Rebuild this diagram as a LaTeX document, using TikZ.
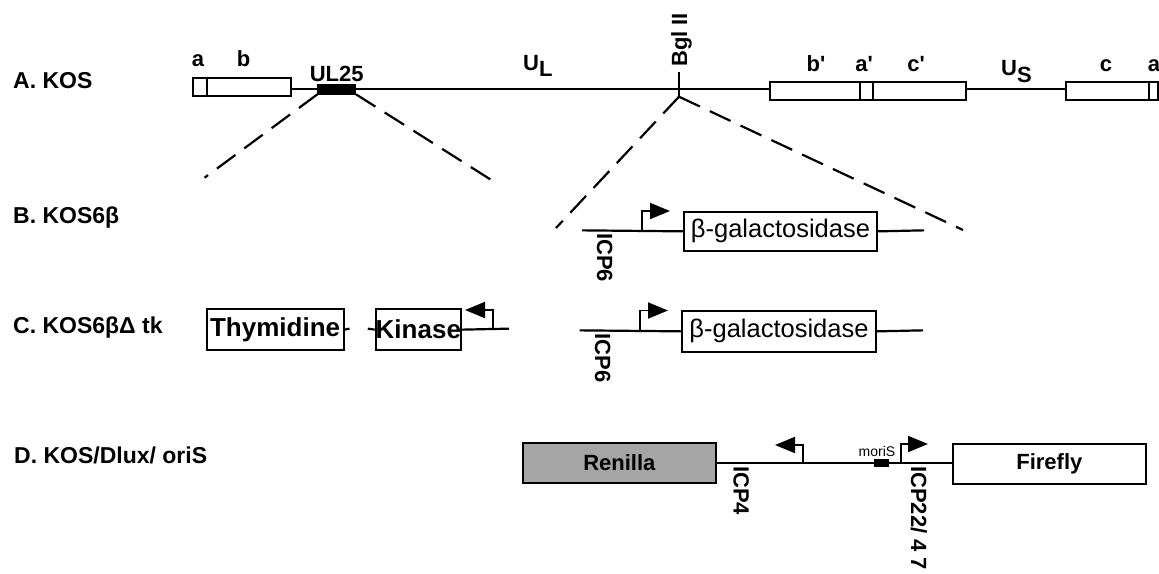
\documentclass[tikz,border=0pt]{standalone}
\usepackage{fontspec}
\setmainfont{Liberation Sans}
\usetikzlibrary{arrows.meta}
\begin{document}
\begin{tikzpicture}[x=1pt,y=-1pt,
  rowlab/.style={font=\fontsize{23}{26}\selectfont\bfseries, inner sep=0pt, anchor=base west},
  seglab/.style={font=\fontsize{22}{24}\selectfont\bfseries, inner sep=0pt, anchor=base},
  icp/.style={font=\fontsize{22}{24}\selectfont\bfseries, inner sep=0pt, anchor=base west, rotate=-90},
  box/.style={draw, line width=2pt, inner sep=0pt, anchor=north west},
  gene/.style={box, font=\fontsize{26}{28}\selectfont\bfseries},
  betagal/.style={box, font=\fontsize{25.5}{28}\selectfont},
  dna/.style={line width=2.2pt},
  thin/.style={line width=1.8pt},
  zoomline/.style={line width=2.2pt, dash pattern=on 23pt off 11pt},
  prom/.style={line width=1.9pt, -{Triangle[length=20pt,width=16pt]}}]
\useasboundingbox (0,0) rectangle (1159,573);

% ---------- Row A ----------
\node[rowlab] (labA) at (13,88.5) {A. KOS};
\node[box, minimum width=98.3pt, minimum height=18pt] (ab) at (192,76.5) {};
\draw[thin] (207,76.5) -- (207,94.5);
\node[seglab] (la) at (198,66.7) {a};
\node[seglab] (lb) at (243.5,66.7) {b};
\node[draw, fill=black, line width=0.5pt, inner sep=0pt, minimum width=38pt, minimum height=9.5pt] (ul) at (336.7,89.3) {};
\node[seglab] (ul25) at (336.7,81.7) {UL25};
\node[seglab, anchor=base west] (UL) at (523,70) {U\raisebox{-6pt}{L}};
\coordinate (bg) at (679,89.3);
\coordinate (bgtop) at (679,71.7);
\coordinate (bgbot) at (679,96.7);
\node[font=\fontsize{22}{24}\selectfont\bfseries, inner sep=0pt, anchor=base west, rotate=90] (bgl) at (687,67) {Bgl II};
\node[box, minimum width=196pt, minimum height=18.3pt] (bac) at (769,80.7) {};
\draw[thin] (860,80.7) -- (860,99) (872.6,80.7) -- (872.6,99);
\node[seglab] (lb2) at (816,71.7) {b\textquotesingle};
\node[seglab] (la2) at (864,71.7) {a\textquotesingle};
\node[seglab] (lc2) at (916,71.7) {c\textquotesingle};
\node[seglab, anchor=base west] (US) at (1001,75) {U\raisebox{-7pt}{S}};
\node[box, minimum width=92.5pt, minimum height=18.3pt] (ca) at (1064.5,80.7) {};
\draw[thin] (1149,80.7) -- (1149,99);
\node[seglab] (lc) at (1106,71.7) {c};
\node[seglab] (la3) at (1154,71.7) {a};

\draw[dna] (ab.east |- ul) -- (ul.west);
\draw[dna] (ul.east) -- (bg) -- (bac.west |- bg);
\draw[dna] (bgtop) -- (bgbot);
\draw[dna] (bac.east |- bg) -- (ca.west |- bg);

% dashed zoom lines
\coordinate (dl1) at (204.6,177.7);
\coordinate (dr1) at (494,181.7);
\coordinate (dl2) at (556,228);
\coordinate (dr2) at (963,230);
\draw[zoomline] (ul.south west) -- (dl1);
\draw[zoomline] (ul.south east) -- (dr1);
\draw[zoomline] (bgbot) -- (dl2);
\draw[zoomline] (bgbot) -- (dr2);

% ---------- Row B ----------
\node[rowlab] (labB) at (13,223) {B. KOS6β};
\node[betagal, minimum width=193pt, minimum height=39.3pt] (galB) at (683,210.7) {β-galactosidase};
\coordinate (lB) at (582,230.35);
\coordinate (rB) at (924,230.35);
\coordinate (pB) at (641.7,230.35);
\coordinate (tB) at (670,211);
\draw[dna] (lB) -- (galB.west);
\draw[dna] (galB.east) -- (rB);
\draw[prom] (pB) |- (tB);
\node[icp] (icpB) at (597,233) {ICP6};

% ---------- Row C ----------
\node[rowlab] (labC) at (13,333.5) {C. KOS6βΔ tk};
\node[gene, minimum width=137pt, minimum height=40.7pt] (thy) at (205.6,308.3) {Thymidine};
\node[gene, minimum width=84.3pt, minimum height=40.7pt] (kin) at (374.7,308.3) {Kinase};
\coordinate (sT) at (349.5,328.65);
\coordinate (sK) at (367.8,328.65);
\coordinate (rC) at (509,328.65);
\coordinate (pC) at (493,328.65);
\coordinate (tC) at (465,310);
\draw[dna] (thy.east) -- (sT);
\draw[dna] (sK) -- (kin.west);
\draw[dna] (kin.east) -- (rC);
\draw[prom] (pC) |- (tC);

\node[betagal, minimum width=194pt, minimum height=40.7pt] (galC) at (681,310) {β-galactosidase};
\coordinate (lC) at (579.5,330.35);
\coordinate (rC2) at (923,330.35);
\coordinate (pC2) at (640,330.35);
\coordinate (tC2) at (668,310.5);
\draw[dna] (lC) -- (galC.west);
\draw[dna] (galC.east) -- (rC2);
\draw[prom] (pC2) |- (tC2);
\node[icp] (icpC) at (595,333.5) {ICP6};

% ---------- Row D ----------
\node[rowlab] (labD) at (14,463) {D. KOS/Dlux/ oriS};
\node[box, fill={rgb,255:red,165;green,165;blue,165}, minimum width=193.3pt, minimum height=40pt,
      font=\fontsize{22}{24}\selectfont\bfseries] (ren) at (521.7,441.7) {Renilla};
\node[box, fill=white, minimum width=193.3pt, minimum height=40pt,
      font=\fontsize{22}{24}\selectfont\bfseries] (fire) at (951.7,442.7) {Firefly};
\draw[dna] (ren.east) -- (fire.west |- ren.east);
\node[fill=black, inner sep=0pt, minimum width=15pt, minimum height=8pt] (ori) at (881.5,462.5) {};
\node[font=\fontsize{14}{16}\selectfont, inner sep=0pt, anchor=base] (morilab) at (877,456) {moriS};
\coordinate (pD1) at (803,461.7);
\coordinate (tD1) at (775,445);
\coordinate (pD2) at (900.7,461.7);
\coordinate (tD2) at (928,444);
\draw[prom] (pD1) |- (tD1);
\draw[prom] (pD2) |- (tD2);
\node[icp] (icp4) at (733.5,466) {ICP4};
\node[icp] (icp22) at (911,466) {ICP22/ 4 7};
\end{tikzpicture}
\end{document}
